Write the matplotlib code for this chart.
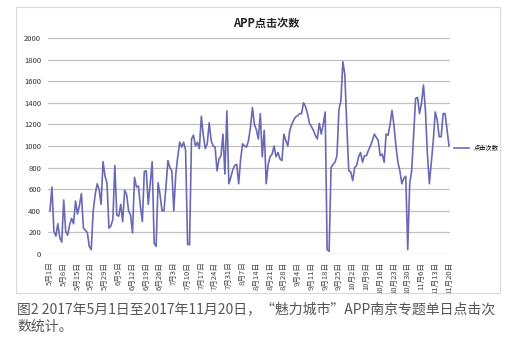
import matplotlib
matplotlib.use('Agg')
import matplotlib.pyplot as plt
from matplotlib.patches import Rectangle

plt.rcParams['font.family'] = ['Noto Sans CJK SC', 'DejaVu Sans']

# daily clicks, 2017-05-01 .. 2017-11-20 (204 days)
clicks = [
    400, 620, 210, 165, 280, 150, 110, 500, 210, 175,
    270, 330, 280, 490, 370, 450, 560, 240, 220, 200,
    70, 40, 400, 550, 650, 600, 460, 855, 720, 660,
    240, 260, 320, 820, 360, 350, 460, 300, 590, 550,
    400, 360, 195, 710, 620, 630, 440, 300, 765, 770,
    460, 650, 855, 100, 70, 660, 550, 400, 400, 620,
    865, 800, 770, 400, 740, 900, 1035, 990, 1035, 960,
    90, 85, 1065, 1100, 1000, 1035, 975, 1275, 1100, 975,
    1020, 1215, 1050, 1000, 990, 770, 880, 910, 1110, 740,
    1325, 650, 710, 780, 820, 830, 650, 880, 1020, 1000,
    990, 1050, 1175, 1355, 1200, 1150, 1065, 1300, 900, 1145,
    650, 830, 900, 925, 1000, 900, 940, 880, 865, 1110,
    1050, 1000, 1145, 1200, 1240, 1270, 1280, 1300, 1300, 1400,
    1365, 1300, 1210, 1180, 1145, 1100, 1065, 1210, 1110, 1200,
    1315, 40, 25, 800, 830, 850, 910, 1340, 1420, 1780,
    1660, 1190, 770, 760, 680, 800, 820, 900, 940, 850,
    910, 910, 960, 1000, 1050, 1110, 1080, 1050, 910, 925,
    850, 1110, 1100, 1200, 1330, 1190, 1000, 850, 770, 650,
    700, 720, 40, 650, 770, 1100, 1440, 1450, 1300, 1395,
    1565, 1330, 925, 650, 850, 1050, 1315, 1240, 1085, 1085,
    1300, 1300, 1150, 1000,
]

tick_labels = [
    '5月1日', '5月8日', '5月15日', '5月22日', '5月29日', '6月5日',
    '6月12日', '6月19日', '6月26日', '7月3日', '7月10日', '7月17日',
    '7月24日', '7月31日', '8月7日', '8月14日', '8月21日', '8月28日',
    '9月4日', '9月11日', '9月18日', '9月25日', '10月2日', '10月9日',
    '10月16日', '10月23日', '10月30日', '11月6日', '11月13日', '11月20日',
]

title = 'APP点击次数'
series_name = '点击次数'
caption = ('图2 2017年5月1日至2017年11月20日，“魅力城市”APP南京专题单日点击次\n'
           '数统计。')

W, H = 513, 354


def do_plot():
    fig = plt.figure(figsize=(W / 100, H / 100), dpi=100)
    fig.patch.set_facecolor('white')

    # outer chart frame
    fig.patches.append(Rectangle((16 / W, 1 - 293 / H), 484 / W, 286 / H,
                                 transform=fig.transFigure, fill=False,
                                 edgecolor='#d9d9d9', linewidth=0.8))

    ax = fig.add_axes([48 / W, 1 - 254 / H, 402 / W, 216 / H])
    days = list(range(len(clicks)))
    ax.plot(days, clicks, color='#6a6ab4', linewidth=1.2, label=series_name)

    ax.set_ylim(0, 2000)
    ax.set_yticks(range(0, 2001, 200))
    ax.set_xlim(-1, len(clicks) - 0.5)
    ax.set_xticks(range(0, len(clicks), 7))
    ax.set_xticklabels(tick_labels, rotation=90, fontsize=5.5, color='#444444')
    ax.tick_params(axis='y', labelsize=5.5, labelcolor='#333333', length=0, pad=5)
    ax.tick_params(axis='x', length=0, pad=5.5)
    for s in ax.spines.values():
        s.set_visible(False)
    ax.grid(axis='y', color='#c0c0c0', linewidth=0.9)
    ax.set_axisbelow(True)

    ax.legend(loc='center left', bbox_to_anchor=(1.0, 0.49), frameon=False,
              fontsize=4.5, handlelength=2.4, borderaxespad=0.2,
              handletextpad=0.8)

    fig.text(266 / W, 1 - 23 / H, title, ha='center', va='center',
             fontsize=8, fontweight='bold', color='#222222')

    fig.text(17 / W, 1 - 302 / H, caption, ha='left', va='top',
             fontsize=10, color='#555555', linespacing=1.35)

    fig.savefig('out.png', dpi=100)


if __name__ == '__main__':
    do_plot()
